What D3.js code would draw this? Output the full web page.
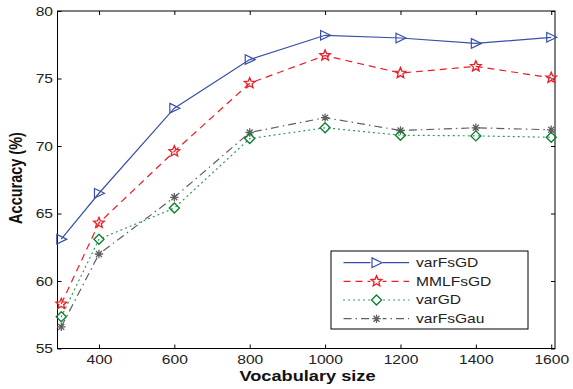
<!DOCTYPE html>
<html>
<head>
<meta charset="utf-8">
<script src="https://cdn.jsdelivr.net/npm/d3@7"></script>
<style>
  html, body { margin: 0; padding: 0; background: #fff; }
  svg { display: block; font-family: "Liberation Sans", Arial, sans-serif; }
</style>
</head>
<body>
<svg id="chart" width="573" height="389"></svg>
<script>
// Vocabulary sizes on the x axis
const vocabSizes = [300, 400, 600, 800, 1000, 1200, 1400, 1600];

// Accuracy (%) per method
const varFsGD   = [63.1, 66.5, 72.8, 76.4, 78.2, 78.0, 77.6, 78.05];
const MMLFsGD   = [58.3, 64.3, 69.6, 74.65, 76.7, 75.4, 75.9, 75.05];
const varGD     = [57.35, 63.1, 65.4, 70.55, 71.35, 70.8, 70.75, 70.65];
const varFsGau  = [56.6, 62.0, 66.2, 71.0, 72.1, 71.15, 71.35, 71.2];

const seriesNames = ["varFsGD", "MMLFsGD", "varGD", "varFsGau"];
const xTicks = [400, 600, 800, 1000, 1200, 1400, 1600];
const yTicks = [55, 60, 65, 70, 75, 80];

const series = [
  { name: seriesNames[0], values: varFsGD,  color: "#3850a8", dash: null,          marker: "triangle", width: 1.2 },
  { name: seriesNames[1], values: MMLFsGD,  color: "#ee1c25", dash: "7,5",         marker: "star",     width: 1.2 },
  { name: seriesNames[2], values: varGD,    color: "#2a9a5a", dash: "1,4",         marker: "diamond",  width: 1.2 },
  { name: seriesNames[3], values: varFsGau, color: "#606060", dash: "8,4,1.5,4",   marker: "asterisk", width: 1.2 }
];
// marker outline colours differ slightly from the dotted line colour
const markerColors = ["#3850a8", "#ee1c25", "#118030", "#606060"];

const svg = d3.select("#chart");
const plotL = 57.5, plotR = 555, plotT = 11, plotB = 348.5;
const SX = 1.3; // horizontal glyph stretch used by all text

const x = d3.scaleLinear().domain([290, 1610]).range([plotL, plotR]);
const y = d3.scaleLinear().domain([55, 80]).range([plotB, plotT]);

// plot frame
svg.append("rect")
  .attr("x", plotL).attr("y", plotT)
  .attr("width", plotR - plotL).attr("height", plotB - plotT)
  .attr("fill", "none").attr("stroke", "#000").attr("stroke-width", 1);

function styleAxis(g) {
  g.select(".domain").remove();
  g.selectAll(".tick line").attr("stroke", "#000").attr("stroke-width", 1);
}

// bottom axis with labels, ticks pointing inward
const xAxis = svg.append("g").attr("transform", `translate(0,${plotB})`)
  .call(d3.axisBottom(x).tickValues(xTicks).tickFormat(d3.format("d"))
    .tickSizeInner(-4).tickSizeOuter(0).tickPadding(0));
styleAxis(xAxis);
xAxis.selectAll(".tick text")
  .attr("y", 0).attr("dy", null)
  .attr("transform", `translate(0,15.5) scale(${SX},1)`)
  .attr("font-size", 12).attr("fill", "#222").attr("font-family", "Liberation Sans, Arial, sans-serif");

// top mirror ticks
const xTop = svg.append("g").attr("transform", `translate(0,${plotT})`)
  .call(d3.axisTop(x).tickValues(xTicks).tickSizeInner(-4).tickSizeOuter(0).tickFormat(""));
styleAxis(xTop);

// left axis with labels
const yAxis = svg.append("g").attr("transform", `translate(${plotL},0)`)
  .call(d3.axisLeft(y).tickValues(yTicks).tickFormat(d3.format("d"))
    .tickSizeInner(-4).tickSizeOuter(0).tickPadding(0));
styleAxis(yAxis);
yAxis.selectAll(".tick text")
  .attr("x", 0).attr("dy", null)
  .attr("transform", `translate(-4.5,4.3) scale(${SX},1)`)
  .attr("font-size", 12).attr("fill", "#222").attr("font-family", "Liberation Sans, Arial, sans-serif");

// right mirror ticks
const yRight = svg.append("g").attr("transform", `translate(${plotR},0)`)
  .call(d3.axisRight(y).tickValues(yTicks).tickSizeInner(-4).tickSizeOuter(0).tickFormat(""));
styleAxis(yRight);

// axis titles
svg.append("text")
  .attr("transform", `translate(${(238 + 377) / 2},381) scale(${SX},1)`)
  .attr("text-anchor", "middle").attr("font-size", 14).attr("font-weight", "bold").attr("fill", "#111")
  .text("Vocabulary size");
svg.append("text")
  .attr("transform", `translate(22,${178}) scale(${SX},1) rotate(-90)`)
  .attr("text-anchor", "middle").attr("font-size", 14.5).attr("font-weight", "bold").attr("fill", "#111")
  .text("Accuracy (%)");

// marker shapes
function starPath(r) {
  const pts = [];
  for (let i = 0; i < 10; i++) {
    const a = -Math.PI / 2 + i * Math.PI / 5;
    const rr = i % 2 === 0 ? r : r * 0.45;
    pts.push([rr * Math.cos(a), rr * Math.sin(a)]);
  }
  return "M" + pts.map(p => p.join(",")).join("L") + "Z";
}
function drawMarker(g, type, color) {
  if (type === "triangle") {
    g.append("path").attr("d", "M-4.5,-4.8L5.5,0L-4.5,4.8Z")
      .attr("fill", "none").attr("stroke", color).attr("stroke-width", 1.2);
  } else if (type === "star") {
    g.append("path").attr("d", starPath(5.6))
      .attr("fill", "none").attr("stroke", color).attr("stroke-width", 1.3);
  } else if (type === "diamond") {
    g.append("path").attr("d", "M0,-5L5,0L0,5L-5,0Z")
      .attr("fill", "none").attr("stroke", color).attr("stroke-width", 1.4);
  } else if (type === "asterisk") {
    const r = 4.2;
    let d = "";
    for (let i = 0; i < 4; i++) {
      const a = i * Math.PI / 4;
      d += `M${-r * Math.cos(a)},${-r * Math.sin(a)}L${r * Math.cos(a)},${r * Math.sin(a)}`;
    }
    g.append("path").attr("d", d).attr("stroke", color).attr("stroke-width", 1.3).attr("fill", "none");
  }
}

const line = d3.line().x((d, i) => x(vocabSizes[i])).y(d => y(d));

// lines first, drawn bottom-up so the upper series sit on top
[...series].reverse().forEach(s => {
  svg.append("path")
    .attr("d", line(s.values))
    .attr("fill", "none")
    .attr("stroke", s.color)
    .attr("stroke-width", s.width)
    .attr("stroke-dasharray", s.dash)
    .attr("stroke-linecap", s.marker === "diamond" ? "round" : "butt");
});
[...series].reverse().forEach(s => {
  const si = series.indexOf(s);
  s.values.forEach((v, i) => {
    const g = svg.append("g").attr("transform", `translate(${x(vocabSizes[i])},${y(v)})`);
    drawMarker(g, s.marker, markerColors[si]);
  });
});

// legend
const lg = svg.append("g");
lg.append("rect").attr("x", 331).attr("y", 251).attr("width", 197).attr("height", 78)
  .attr("fill", "#fff").attr("stroke", "#000").attr("stroke-width", 1);
const rowY = [262.7, 281.3, 300, 318.7];
series.forEach((s, i) => {
  lg.append("line").attr("x1", 343.5).attr("x2", 409).attr("y1", rowY[i]).attr("y2", rowY[i])
    .attr("stroke", s.color).attr("stroke-width", s.width)
    .attr("stroke-dasharray", s.dash)
    .attr("stroke-linecap", s.marker === "diamond" ? "round" : "butt");
  const mg = lg.append("g").attr("transform", `translate(376.5,${rowY[i]})`);
  mg.append("rect").attr("x", -6).attr("y", -6).attr("width", 12).attr("height", 12).attr("fill", "#fff");
  drawMarker(mg, s.marker, markerColors[i]);
  lg.append("text")
    .attr("transform", `translate(416,${rowY[i] + 4.3}) scale(${SX},1)`)
    .attr("font-size", 12).attr("fill", "#222")
    .text(s.name);
});
</script>
</body>
</html>
